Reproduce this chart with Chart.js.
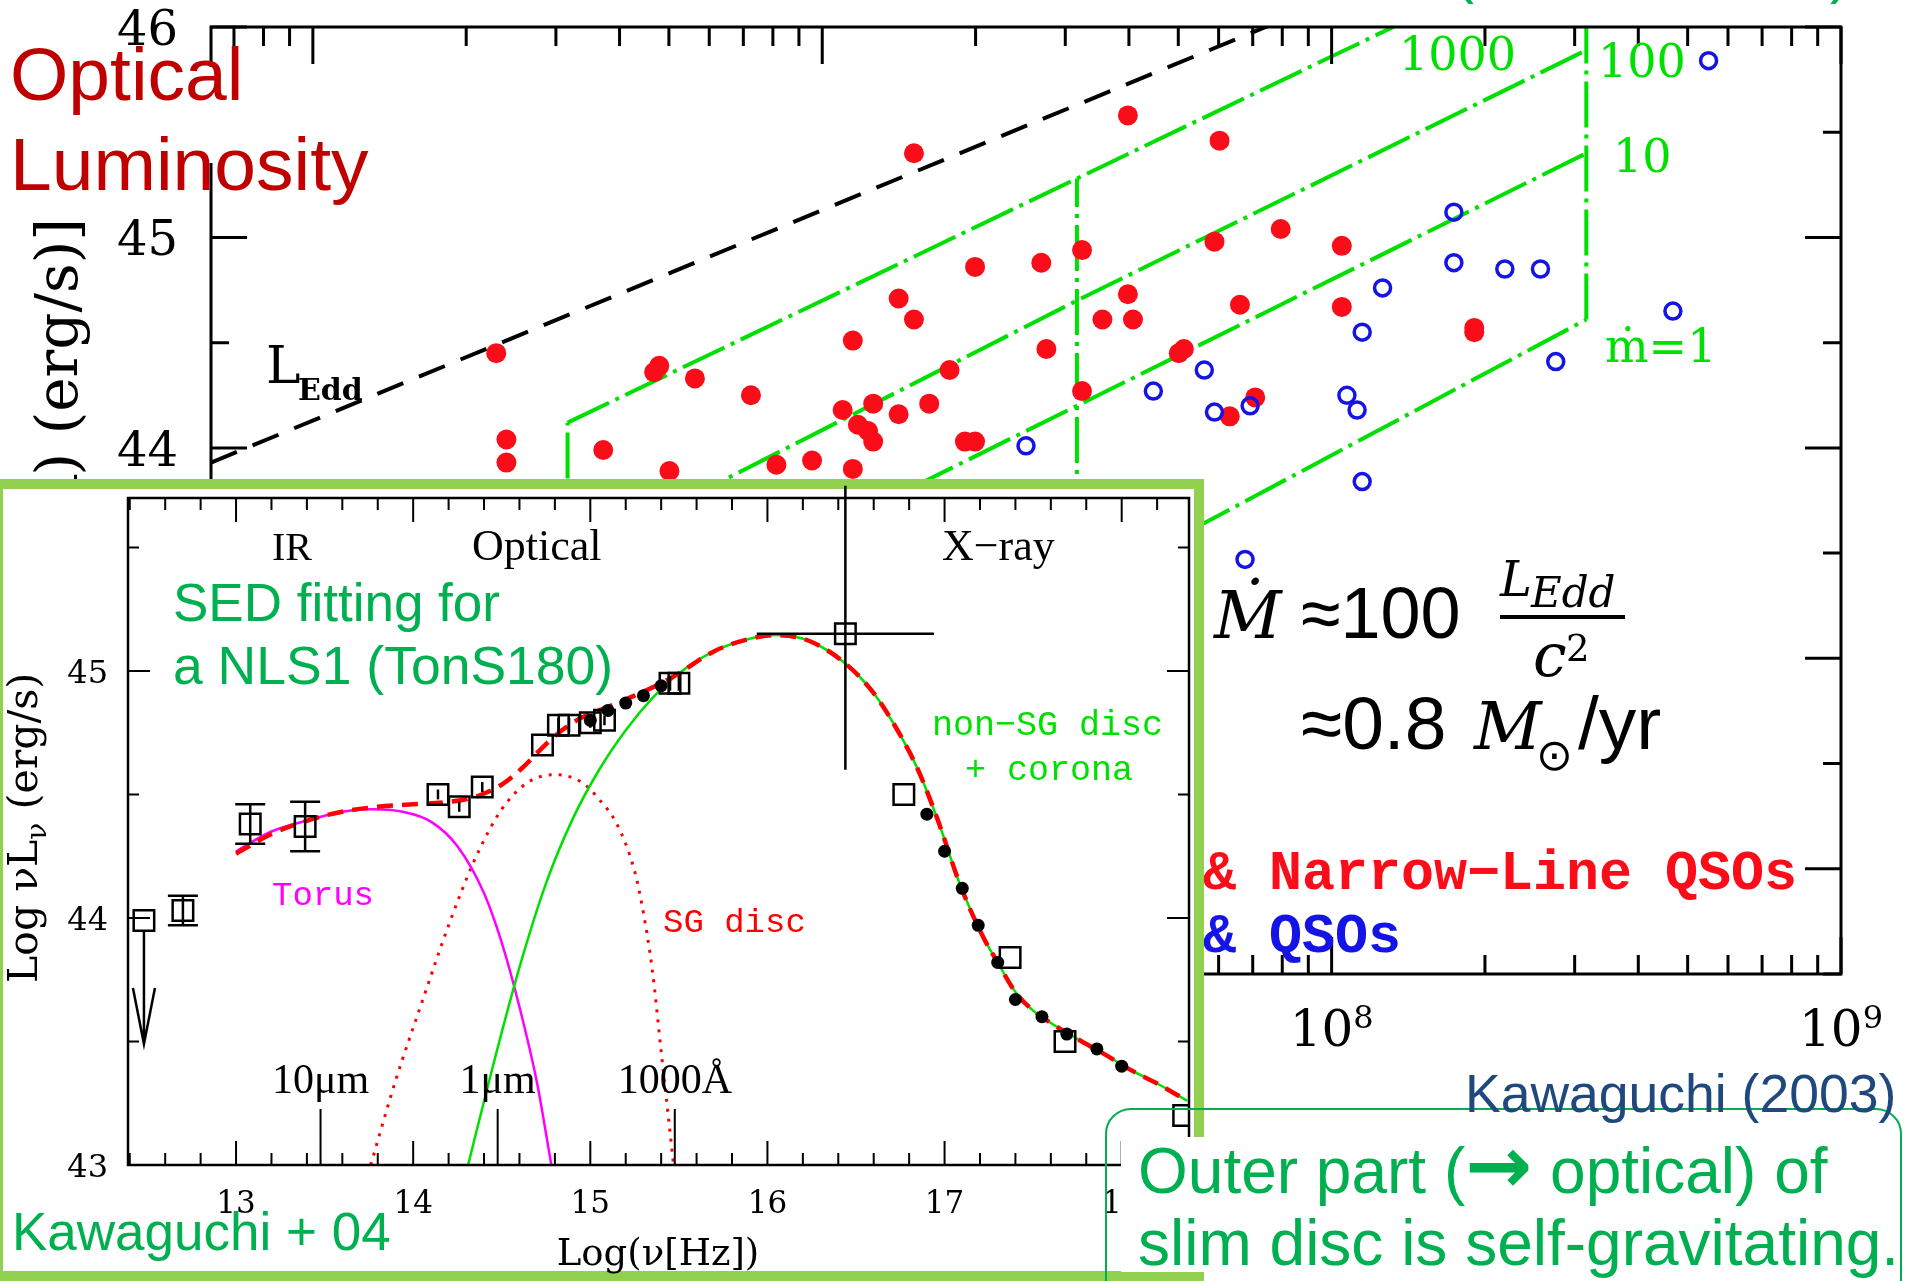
<!DOCTYPE html>
<html>
<head>
<meta charset="utf-8">
<title>Optical luminosity vs black hole mass, with TonS180 SED</title>
<script src="https://cdn.jsdelivr.net/npm/chart.js@4.4.1/dist/chart.umd.min.js"></script>
<style>
  html, body { margin:0; padding:0; background:#fff; }
  #page { position:relative; width:1916px; height:1281px; overflow:hidden; background:#fff; }
  canvas { position:absolute; left:0; top:0; }
  #mainCanvas { z-index:1; }
  #lumPatch { position:absolute; left:0; top:67px; width:380px; height:96px; background:#fff; z-index:2; }
  #insetBox { position:absolute; left:-7px; top:479px; width:1211px; height:802px; box-sizing:border-box;
              border:10px solid #92d050; background:#fff; z-index:3; }
  #insetCanvas { z-index:4; }
  #outerPatch { position:absolute; left:1121px; top:1137px; width:780px; height:135px; background:#fff; z-index:6; }
  #outerFrame { position:absolute; left:1105px; top:1108px; width:797px; height:230px; box-sizing:border-box;
                border:2px solid #00b050; border-radius:26px; z-index:7; }
  .t { position:absolute; white-space:nowrap; margin:0; padding:0; }
  .arrow { font-family:'DejaVu Sans', sans-serif; font-weight:bold; font-size:80px; line-height:64px; }
</style>
</head>
<body>
<div id="page">
  <canvas id="mainCanvas" width="1916" height="1281"></canvas>
  <div id="lumPatch"></div>
  <div id="insetBox"></div>
  <canvas id="insetCanvas" width="1916" height="1281"></canvas>
  <div id="outerPatch"></div>
  <div id="outerFrame"></div>
</div>
<script>
// ---------- Main panel: log M_BH vs log optical luminosity ----------
// NLS1s & narrow-line QSOs (filled red)
const NLS1_LOGM = [6.36, 6.38, 6.38, 6.57, 6.68, 6.67, 6.75, 6.86, 6.70, 6.91, 6.98, 7.06, 7.18, 7.06, 7.15, 7.18, 7.25, 7.30, 7.21, 7.15, 7.10, 7.04, 7.07, 7.09, 7.10, 7.28, 7.30, 7.43, 7.51, 7.44, 7.51, 7.60, 7.78, 7.60, 7.55, 7.61, 7.70, 7.71, 7.77, 7.90, 8.02, 7.82, 8.02, 7.80, 7.85, 8.28, 8.28];
const NLS1_LOGL = [44.45, 44.04, 43.93, 43.99, 44.39, 44.36, 44.33, 44.25, 43.89, 43.92, 43.94, 43.90, 45.40, 44.51, 44.71, 44.61, 44.37, 44.86, 44.21, 44.16, 44.21, 44.18, 44.11, 44.08, 44.03, 44.03, 44.03, 44.88, 44.94, 44.47, 44.27, 45.58, 45.46, 44.73, 44.61, 44.61, 44.45, 44.47, 44.98, 45.04, 44.96, 44.68, 44.67, 44.15, 44.24, 44.55, 44.57];
// BLS1s & QSOs (open blue)
const BLS1_LOGM = [8.74, 8.24, 8.24, 8.34, 8.41, 8.10, 8.06, 8.67, 8.44, 7.75, 7.65, 7.77, 7.84, 8.03, 8.05, 8.06, 7.40, 7.83];
const BLS1_LOGL = [45.84, 45.12, 44.88, 44.85, 44.85, 44.76, 44.55, 44.65, 44.41, 44.37, 44.27, 44.17, 44.20, 44.25, 44.18, 43.84, 44.01, 43.47];
// Eddington luminosity
const LEDD_LOGM = [5.8, 7.9];
const LEDD_LOGL = [43.93, 46.03];
// constant-mdot loci, sampled at the three mass columns
const MDOT_LOGM = [6.5, 7.5, 8.5];
const MDOT1_LOGL = [42.03, 43.32, 44.61];
const MDOT10_LOGL = [43.00, 44.20, 45.40];
const MDOT100_LOGL = [43.47, 44.70, 45.89];
const MDOT1000_LOGL = [44.12, 45.28, 46.44];
// axis ticks
const MAIN_X_DECADES = [5, 6, 7, 8, 9];
const MAIN_X_LABELED = [6, 7, 8, 9];
const MAIN_Y_LABELED = [42, 43, 44, 45, 46];

// ---------- Inset: SED of TonS180 ----------
const OBS_NU = [12.48, 12.70, 13.08, 13.39, 14.14, 14.26, 14.39, 14.73, 14.82, 14.88, 15.00, 15.08, 15.45, 15.50, 16.44, 16.77, 17.37, 17.68, 18.35];
const OBS_L  = [43.99, 44.03, 44.38, 44.37, 44.50, 44.45, 44.53, 44.70, 44.78, 44.78, 44.79, 44.80, 44.95, 44.95, 45.15, 44.50, 43.84, 43.50, 43.20];
const OBS_ELO = [0, 0.06, 0.08, 0.10, 0.02, 0.02, 0.02, 0, 0.03, 0.03, 0.02, 0.02, 0.03, 0.03, 0.55, 0, 0, 0, 0];
const OBS_EHI = [0, 0.06, 0.08, 0.10, 0.02, 0.02, 0.02, 0, 0.03, 0.03, 0.02, 0.02, 0.03, 0.03, 0.60, 0, 0, 0, 0];
const OBS_EX  = [0, 0, 0, 0, 0, 0, 0, 0, 0, 0, 0, 0, 0, 0, 0.50, 0, 0, 0, 0];
const OBS_LIMIT_TO = [43.49, null, null, null, null, null, null, null, null, null, null, null, null, null, null, null, null, null, null];
const DOT_NU = [15.00, 15.10, 15.20, 15.30, 15.40, 16.90, 17.00, 17.10, 17.19, 17.30, 17.40, 17.55, 17.69, 17.86, 18.00];
const DOT_L  = [44.80, 44.84, 44.87, 44.90, 44.94, 44.42, 44.27, 44.12, 43.97, 43.82, 43.67, 43.60, 43.53, 43.47, 43.40];
// model components
const TOTAL_NU = [13.00, 13.20, 13.43, 13.60, 13.80, 14.00, 14.20, 14.35, 14.50, 14.62, 14.73, 14.84, 14.95, 15.10, 15.25, 15.40, 15.50, 15.70, 15.90, 16.05, 16.24, 16.44, 16.60, 16.75, 16.85, 16.96, 17.09, 17.22, 17.30, 17.40, 17.50, 17.60, 17.75, 17.90, 18.05, 18.20, 18.37];
const TOTAL_L  = [44.26, 44.34, 44.40, 44.43, 44.45, 44.46, 44.47, 44.49, 44.54, 44.61, 44.69, 44.76, 44.81, 44.855, 44.90, 44.95, 44.99, 45.08, 45.13, 45.145, 45.12, 45.03, 44.91, 44.74, 44.60, 44.40, 44.13, 43.92, 43.82, 43.70, 43.625, 43.575, 43.51, 43.45, 43.385, 43.33, 43.26];
const NSG_NU = [14.31, 14.45, 14.60, 14.75, 14.90, 15.05, 15.20, 15.35, 15.50, 15.70, 15.90, 16.05, 16.24, 16.44, 16.60, 16.75, 16.85, 16.96, 17.09, 17.22, 17.30, 17.40, 17.50, 17.60, 17.75, 17.90, 18.05, 18.20, 18.37];
const NSG_L  = [43.00, 43.40, 43.80, 44.14, 44.40, 44.60, 44.76, 44.89, 44.99, 45.08, 45.13, 45.145, 45.12, 45.03, 44.91, 44.74, 44.60, 44.40, 44.13, 43.92, 43.82, 43.70, 43.625, 43.575, 43.51, 43.45, 43.385, 43.33, 43.26];
const TORUS_NU = [13.00, 13.20, 13.43, 13.60, 13.76, 13.94, 14.10, 14.25, 14.40, 14.50, 14.60, 14.70, 14.78];
const TORUS_L  = [44.27, 44.35, 44.40, 44.43, 44.44, 44.43, 44.39, 44.29, 44.10, 43.90, 43.64, 43.33, 43.00];
const SG_NU = [13.76, 13.90, 14.05, 14.20, 14.35, 14.50, 14.65, 14.80, 14.95, 15.05, 15.15, 15.25, 15.30, 15.35, 15.40, 15.44, 15.47];
const SG_L  = [43.00, 43.34, 43.66, 43.97, 44.24, 44.44, 44.55, 44.58, 44.55, 44.48, 44.38, 44.19, 44.02, 43.79, 43.46, 43.20, 43.00];
// wavelength markers on the frequency axis
const WAVE_NU = [13.477, 14.477, 15.477];
const WAVE_LABELS = ['10\u03bcm', '1\u03bcm', '1000\u00c5'];
const INSET_X_LABELED = [13, 14, 15, 16, 17, 18];
const INSET_Y_LABELED = [43, 44, 45];

// ---------- helpers ----------
const RED = '#fa0d18', BLUE = '#1414e6', LIME = '#00e000';
const DS = "'DejaVu Serif', serif";
const LS = "'Liberation Sans', Arial, sans-serif";
const LSER = "'Liberation Serif', serif";
const LM = "'Liberation Mono', monospace";
const pts = (xs, ys) => xs.map((v, i) => ({ x: v, y: ys[i] }));

function drawRich(ctx, parts, x, y, angle, align) {
  ctx.save();
  ctx.translate(x, y);
  if (angle) ctx.rotate(angle);
  let total = 0;
  parts.forEach(p => { ctx.font = p.font; p.w = ctx.measureText(p.text).width; total += p.w; });
  let cx = align === 'right' ? -total : (align === 'center' ? -total / 2 : 0);
  ctx.textAlign = 'left';
  ctx.textBaseline = 'alphabetic';
  parts.forEach(p => {
    ctx.font = p.font;
    ctx.fillStyle = p.color || '#000';
    ctx.fillText(p.text, cx, p.dy || 0);
    cx += p.w;
  });
  ctx.restore();
}

// ---------- main panel frame, ticks and labels ----------
const mainFrame = {
  id: 'mainFrame',
  afterDraw(chart) {
    const { ctx, chartArea: a, scales: { x, y } } = chart;
    ctx.save();
    ctx.strokeStyle = '#000';
    ctx.lineWidth = 3;
    ctx.lineCap = 'butt';
    ctx.strokeRect(a.left, a.top, a.right - a.left, a.bottom - a.top);
    ctx.beginPath();
    for (let k = 83; k <= 92; k++) {
      const v = k / 2, py = y.getPixelForValue(v);
      const len = k % 2 === 0 ? 36 : 18;
      ctx.moveTo(a.left, py); ctx.lineTo(a.left + len, py);
      ctx.moveTo(a.right, py); ctx.lineTo(a.right - len, py);
    }
    MAIN_X_DECADES.forEach(d => {
      for (let k = 1; k <= 9; k++) {
        const v = d + Math.log10(k);
        if (v < x.min - 1e-6 || v > x.max + 1e-6) continue;
        const px = x.getPixelForValue(v);
        const len = k === 1 ? 37 : 19;
        ctx.moveTo(px, a.top); ctx.lineTo(px, a.top + len);
        ctx.moveTo(px, a.bottom); ctx.lineTo(px, a.bottom - len);
      }
    });
    ctx.stroke();

    // tick labels
    ctx.fillStyle = '#000';
    ctx.font = '48px ' + DS;
    ctx.textAlign = 'right';
    ctx.textBaseline = 'alphabetic';
    MAIN_Y_LABELED.forEach(v => ctx.fillText(String(v), a.left - 33, y.getPixelForValue(v) + 18));
    MAIN_X_LABELED.forEach(d => {
      drawRich(ctx, [
        { text: '10', font: '50px ' + DS },
        { text: String(d), font: '32px ' + DS, dy: -18 }
      ], x.getPixelForValue(d), a.bottom + 72, 0, 'center');
    });

    // axis title (rotated)
    drawRich(ctx, [
      { text: 'Log [\u03bbL', font: '58px ' + DS },
      { text: '\u03bb', font: '38px ' + DS, dy: 12 },
      { text: '(5100\u00c5) (erg/s)]', font: '58px ' + DS }
    ], 77, 218, -Math.PI / 2, 'right');

    // Eddington label
    drawRich(ctx, [{ text: 'L', font: '52px ' + DS }], 266, 383, 0, 'left');
    drawRich(ctx, [{ text: 'Edd', font: 'bold 30px ' + DS }], 298, 400, 0, 'left');

    // mdot labels
    ctx.fillStyle = LIME;
    ctx.textAlign = 'left';
    ctx.font = '46px ' + DS;
    ctx.fillText('1000', 1399, 70);
    ctx.fillText('100', 1598, 77);
    ctx.fillText('10', 1613, 172);
    ctx.fillText('\u1e41=1', 1605, 362);
    ctx.restore();
  }
};

const dashDot = [46, 7, 4, 7];
function mdotLine(label, ys) {
  return { label, data: pts(MDOT_LOGM, ys), showLine: true, borderColor: LIME, borderWidth: 4,
           borderDash: dashDot, pointRadius: 0, order: 4 };
}
function mdotColumn(i) {
  return { label: 'logM = ' + MDOT_LOGM[i],
           data: pts([MDOT_LOGM[i], MDOT_LOGM[i]], [MDOT1_LOGL[i], MDOT1000_LOGL[i]]),
           showLine: true, borderColor: LIME, borderWidth: 4, borderDash: dashDot, pointRadius: 0, order: 4 };
}

new Chart(document.getElementById('mainCanvas'), {
  type: 'scatter',
  data: {
    datasets: [
      { label: 'NLS1s & Narrow-Line QSOs', data: pts(NLS1_LOGM, NLS1_LOGL), pointRadius: 10,
        pointBackgroundColor: RED, backgroundColor: RED, pointBorderWidth: 0, borderWidth: 0, order: 1 },
      { label: 'BLS1s & QSOs', data: pts(BLS1_LOGM, BLS1_LOGL), pointRadius: 8,
        pointBackgroundColor: 'rgba(0,0,0,0)', pointBorderColor: BLUE, borderColor: BLUE, pointBorderWidth: 3.5, order: 0 },
      { label: 'L_Edd', data: pts(LEDD_LOGM, LEDD_LOGL), showLine: true, borderColor: '#000', borderWidth: 4,
        borderDash: [28, 17], pointRadius: 0, order: 3 },
      mdotLine('mdot = 1', MDOT1_LOGL),
      mdotLine('mdot = 10', MDOT10_LOGL),
      mdotLine('mdot = 100', MDOT100_LOGL),
      mdotLine('mdot = 1000', MDOT1000_LOGL),
      mdotColumn(0), mdotColumn(1), mdotColumn(2)
    ]
  },
  options: {
    responsive: false, animation: false, devicePixelRatio: 1, events: [],
    layout: { autoPadding: false, padding: { left: 211, top: 27, right: 75, bottom: 307 } },
    plugins: { legend: { display: false }, tooltip: { enabled: false } },
    scales: {
      x: { type: 'linear', min: 5.8, max: 9, display: false },
      y: { type: 'linear', min: 41.5, max: 46, display: false }
    }
  },
  plugins: [mainFrame]
});

// ---------- inset frame, ticks, error bars and labels ----------
const insetFrame = {
  id: 'insetFrame',
  afterDatasetsDraw(chart) {
    const { ctx, scales: { x, y } } = chart;
    ctx.save();
    ctx.strokeStyle = '#000';
    ctx.lineWidth = 2.5;
    OBS_NU.forEach((nu, i) => {
      const px = x.getPixelForValue(nu), py = y.getPixelForValue(OBS_L[i]);
      ctx.beginPath();
      if (OBS_EHI[i] > 0 || OBS_ELO[i] > 0) {
        const yt = y.getPixelForValue(OBS_L[i] + OBS_EHI[i]);
        const yb = y.getPixelForValue(OBS_L[i] - OBS_ELO[i]);
        ctx.moveTo(px, yt); ctx.lineTo(px, yb);
        if (OBS_EX[i] === 0 && OBS_EHI[i] >= 0.05) {
          ctx.moveTo(px - 15, yt); ctx.lineTo(px + 15, yt);
          ctx.moveTo(px - 15, yb); ctx.lineTo(px + 15, yb);
        }
      }
      if (OBS_EX[i] > 0) {
        ctx.moveTo(x.getPixelForValue(nu - OBS_EX[i]), py);
        ctx.lineTo(x.getPixelForValue(nu + OBS_EX[i]), py);
      }
      if (OBS_LIMIT_TO[i] !== null) {
        const tip = y.getPixelForValue(OBS_LIMIT_TO[i]);
        ctx.moveTo(px, py + 10); ctx.lineTo(px, tip);
        ctx.moveTo(px - 11, tip - 56); ctx.lineTo(px, tip); ctx.lineTo(px + 11, tip - 56);
      }
      ctx.stroke();
    });
    ctx.restore();
  },
  afterDraw(chart) {
    const { ctx, chartArea: a, scales: { x, y } } = chart;
    ctx.save();
    ctx.strokeStyle = '#000';
    ctx.lineWidth = 2.5;
    ctx.strokeRect(a.left, a.top, a.right - a.left, a.bottom - a.top);
    ctx.lineWidth = 2;
    ctx.beginPath();
    for (let k = 62; k <= 91; k++) {
      const v = k / 5;
      if (v < x.min || v > x.max) continue;
      const px = x.getPixelForValue(v);
      const len = k % 5 === 0 ? 24 : 12;
      ctx.moveTo(px, a.top); ctx.lineTo(px, a.top + len);
      ctx.moveTo(px, a.bottom); ctx.lineTo(px, a.bottom - len);
    }
    for (let k = 86; k <= 91; k++) {
      const v = k / 2, py = y.getPixelForValue(v);
      const len = k % 2 === 0 ? 22 : 11;
      ctx.moveTo(a.left, py); ctx.lineTo(a.left + len, py);
      ctx.moveTo(a.right, py); ctx.lineTo(a.right - len, py);
    }
    WAVE_NU.forEach(v => {
      const px = x.getPixelForValue(v);
      ctx.moveTo(px, a.bottom); ctx.lineTo(px, a.bottom - 56);
    });
    ctx.stroke();

    ctx.fillStyle = '#000';
    ctx.textBaseline = 'alphabetic';
    ctx.font = '32px ' + DS;
    ctx.textAlign = 'right';
    INSET_Y_LABELED.forEach(v => ctx.fillText(String(v), a.left - 20, y.getPixelForValue(v) + 12));
    ctx.font = '31px ' + DS;
    ctx.textAlign = 'center';
    INSET_X_LABELED.forEach(v => ctx.fillText(String(v), x.getPixelForValue(v), a.bottom + 48));
    ctx.font = '42px ' + LSER;
    WAVE_NU.forEach((v, i) => ctx.fillText(WAVE_LABELS[i], x.getPixelForValue(v), 1093));
    ctx.font = '37px ' + DS;
    ctx.fillText('Log(\u03bd[Hz])', 658, 1265);

    ctx.textAlign = 'left';
    ctx.font = '40px ' + LSER;
    ctx.fillText('IR', 272, 560);
    ctx.font = '44px ' + LSER;
    ctx.fillText('Optical', 472, 560);
    ctx.fillText('X\u2212ray', 942, 560);
    ctx.font = '34px ' + LM;
    ctx.fillStyle = '#ff00ff';
    ctx.fillText('Torus', 272, 905);
    ctx.fillStyle = '#ff0000';
    ctx.fillText('SG disc', 663, 932);
    ctx.fillStyle = LIME;
    ctx.font = '35px ' + LM;
    ctx.fillText('non\u2212SG disc', 932, 735);
    ctx.fillText('+ corona', 965, 780);

    drawRich(ctx, [
      { text: 'Log \u03bdL', font: '41px ' + DS },
      { text: '\u03bd', font: '28px ' + DS, dy: 9 },
      { text: ' (erg/s)', font: '41px ' + DS }
    ], 37, 983, -Math.PI / 2, 'left');
    ctx.restore();
  }
};

new Chart(document.getElementById('insetCanvas'), {
  type: 'scatter',
  data: {
    datasets: [
      { label: 'observed', data: pts(OBS_NU, OBS_L), pointStyle: 'rect', pointRadius: 14.5,
        pointBackgroundColor: 'rgba(0,0,0,0)', pointBorderColor: '#000', borderColor: '#000', pointBorderWidth: 2.5, order: 0 },
      { label: 'observed (spectra)', data: pts(DOT_NU, DOT_L), pointRadius: 6.5,
        pointBackgroundColor: '#000', backgroundColor: '#000', pointBorderWidth: 0, order: 0 },
      { label: 'total', data: pts(TOTAL_NU, TOTAL_L), showLine: true, borderColor: '#ff0000', borderWidth: 4.5,
        borderDash: [16, 9], pointRadius: 0, cubicInterpolationMode: 'monotone', order: 1 },
      { label: 'non-SG disc + corona', data: pts(NSG_NU, NSG_L), showLine: true, borderColor: LIME, borderWidth: 2.5,
        pointRadius: 0, cubicInterpolationMode: 'monotone', order: 2 },
      { label: 'Torus', data: pts(TORUS_NU, TORUS_L), showLine: true, borderColor: '#ff00ff', borderWidth: 2.5,
        pointRadius: 0, cubicInterpolationMode: 'monotone', order: 3 },
      { label: 'SG disc', data: pts(SG_NU, SG_L), showLine: true, borderColor: '#ff0000', borderWidth: 3,
        borderDash: [3, 7], pointRadius: 0, cubicInterpolationMode: 'monotone', order: 3 }
    ]
  },
  options: {
    responsive: false, animation: false, devicePixelRatio: 1, events: [],
    layout: { autoPadding: false, padding: { left: 128, top: 498, right: 727, bottom: 116 } },
    plugins: { legend: { display: false }, tooltip: { enabled: false } },
    scales: {
      x: { type: 'linear', min: 12.39, max: 18.38, display: false },
      y: { type: 'linear', min: 43, max: 45.7, display: false }
    }
  },
  plugins: [insetFrame]
});

// ---------- slide annotations ----------
const page = document.getElementById('page');
const mctx = document.createElement('canvas').getContext('2d');
function addText(str, o) {
  const el = document.createElement('div');
  el.className = 't';
  if (o.html) el.innerHTML = o.html; else el.textContent = str;
  const font = (o.italic ? 'italic ' : '') + (o.bold ? 'bold ' : '') + o.size + 'px ' + o.family;
  el.style.font = font;
  el.style.lineHeight = o.size + 'px';
  el.style.color = o.color || '#000';
  mctx.font = font;
  const m = mctx.measureText(str);
  const asc = m.fontBoundingBoxAscent, desc = m.fontBoundingBoxDescent;
  el.style.top = (o.base - ((o.size - asc - desc) / 2 + asc)) + 'px';
  el.style.left = (o.align === 'center' ? o.x - m.width / 2 : o.x) + 'px';
  el.style.zIndex = o.z || 2;
  page.appendChild(el);
  return el;
}

addText('Optical', { family: LS, size: 75, color: '#c00000', x: 10, base: 100 });
addText('Luminosity', { family: LS, size: 75, color: '#c00000', x: 10, base: 190 });
addText('(', { family: LS, size: 60, color: '#00b050', x: 1454, base: -8 });
addText(')', { family: LS, size: 60, color: '#00b050', x: 1830, base: -8 });

addText('NLS1s & Narrow\u2212Line QSOs', { family: LM, size: 55, bold: true, color: '#fa0d18', x: 1005, base: 889 });
addText('BLS1s & QSOs', { family: LM, size: 55, bold: true, color: '#1414e6', x: 1005, base: 952 });

addText('\u1e40', { family: DS, size: 66, italic: true, x: 1214, base: 638 });
addText('\u2248100', { family: LS, size: 72, x: 1301, base: 638 });
addText('L', { family: DS, size: 48, italic: true, x: 1500, base: 596 });
addText('Edd', { family: DS, size: 42, italic: true, x: 1531, base: 607 });
const bar = document.createElement('div');
bar.style.cssText = 'position:absolute;left:1500px;top:615px;width:125px;height:4px;background:#000;z-index:2;';
page.appendChild(bar);
addText('c', { family: DS, size: 60, italic: true, x: 1533, base: 676 });
addText('2', { family: DS, size: 37, x: 1566, base: 661 });
addText('\u22480.8', { family: LS, size: 75, x: 1301, base: 749 });
addText('M', { family: DS, size: 66, italic: true, x: 1474, base: 749 });
addText('\u2299', { family: "'DejaVu Sans', sans-serif", size: 44, x: 1536, base: 770 });
addText('/yr', { family: LS, size: 75, x: 1578, base: 749 });

addText('SED fitting for', { family: LS, size: 53, color: '#00b050', x: 173, base: 621, z: 5 });
addText('a NLS1 (TonS180)', { family: LS, size: 53.5, color: '#00b050', x: 173, base: 684, z: 5 });
addText('Kawaguchi + 04', { family: LS, size: 53, color: '#00b050', x: 12, base: 1250, z: 5 });

addText('Kawaguchi (2003)', { family: LS, size: 53.5, color: '#1f497d', x: 1465, base: 1112, z: 7 });
addText('Outer part (\u2192 optical) of', { family: LS, size: 64, color: '#00b050', x: 1138, base: 1188, z: 7,
  html: 'Outer part (<span class="arrow">\u2192</span> optical) of' });
addText('slim disc is self-gravitating.', { family: LS, size: 64, color: '#00b050', x: 1138, base: 1265, z: 7 });
</script>
</body>
</html>
